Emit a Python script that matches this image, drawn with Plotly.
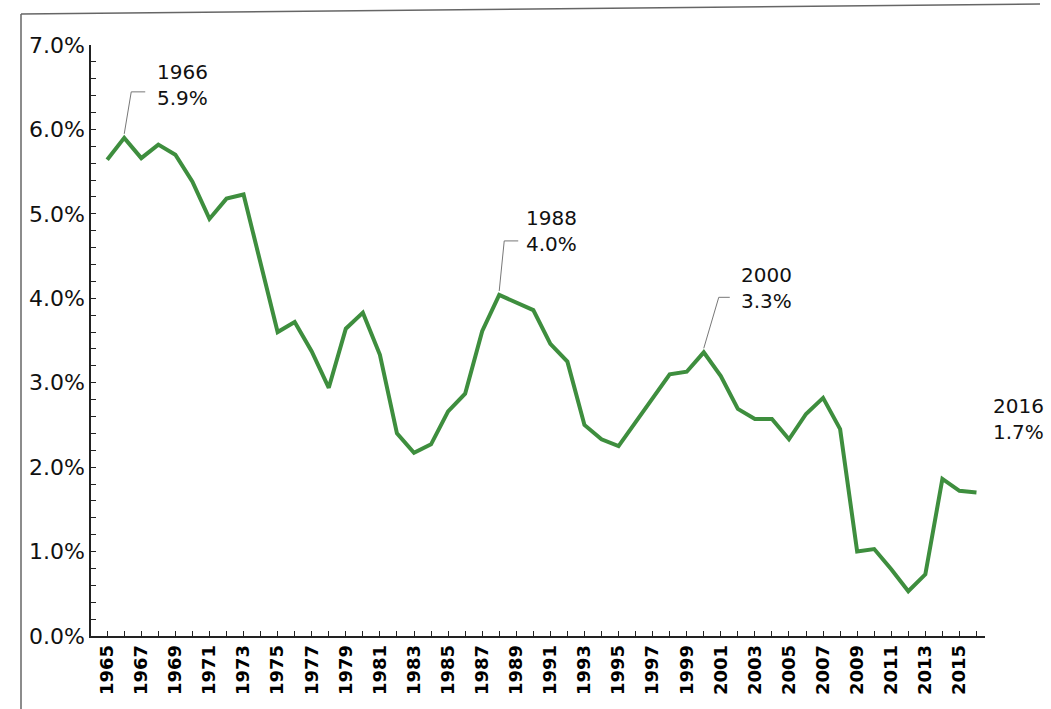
import plotly.graph_objects as go

# -----------------------------------------------------------
# Datos
# -----------------------------------------------------------
years = list(range(1965, 2017))
rate = [
    5.64, 5.90, 5.66, 5.82, 5.70, 5.38, 4.94, 5.18, 5.23, 4.40,
    3.60, 3.72, 3.37, 2.94, 3.64, 3.83, 3.33, 2.40, 2.17, 2.27,
    2.66, 2.87, 3.61, 4.04, 3.95, 3.86, 3.46, 3.25, 2.50, 2.33,
    2.25, 2.54, 2.82, 3.10, 3.13, 3.36, 3.08, 2.69, 2.57, 2.57,
    2.33, 2.63, 2.82, 2.45, 1.00, 1.03, 0.79, 0.53, 0.73, 1.86,
    1.72, 1.70,
]
x_ticks = list(range(1965, 2016, 2))
y_ticks = [0, 1, 2, 3, 4, 5, 6, 7]

# puntos destacados: año, texto, desplazamiento del texto, codo de la guía
highlights = [
    (1966, "1966<br>5.9%", 31, 53, (7, 46, 21)),
    (1988, "1988<br>4.0%", 25, 64, (5, 54, 19)),
    (2000, "2000<br>3.3%", 35, 64, (15, 55, 26)),
    (2016, "2016<br>1.7%", 15, 73, None),
]

GREEN = "#3e8e3e"
FONT = "DejaVu Sans"

fig = go.Figure()
fig.add_trace(go.Scatter(
    x=years, y=rate, mode="lines",
    line=dict(color=GREEN, width=4),
    hoverinfo="x+y", showlegend=False,
))

for yr, txt, dx, dy, guide in highlights:
    val = rate[years.index(yr)]
    fig.add_annotation(
        x=yr, y=val, text=txt, showarrow=False,
        xanchor="left", yanchor="middle", align="left",
        xshift=dx, yshift=dy,
        font=dict(family=FONT, size=20, color="#111"),
    )
    if guide:
        gx, gy, ex = guide
        fig.add_shape(
            type="path", xref="x", yref="y",
            xsizemode="pixel", ysizemode="pixel",
            xanchor=yr, yanchor=val,
            path=f"M0,4 L{gx},{gy} L{ex},{gy}",
            line=dict(color="#777", width=1),
        )

# bordes del papel fotografiado
W, H, L, R, T, B = 1051, 709, 91, 66, 45, 73
pw, ph = W - L - R, H - T - B
def px(x): return (x - L) / pw
def py(y): return (H - B - y) / ph
fig.add_shape(type="line", xref="paper", yref="paper",
              x0=px(21), y0=py(14), x1=px(1040), y1=py(4),
              line=dict(color="#666", width=1.5))
fig.add_shape(type="line", xref="paper", yref="paper",
              x0=px(21), y0=py(14), x1=px(21), y1=py(709),
              line=dict(color="#666", width=1.5))

fig.update_layout(
    width=W, height=H,
    margin=dict(l=L, r=R, t=T, b=B),
    paper_bgcolor="white", plot_bgcolor="white",
    showlegend=False,
    xaxis=dict(
        range=[1964.05, 2016.5],
        tickvals=x_ticks, ticktext=[f"<b>{v}</b>" for v in x_ticks],
        tickangle=-90, ticks="inside", ticklen=5, tickcolor="#222",
        minor=dict(dtick=1, tick0=1965, ticks="inside", ticklen=5, tickcolor="#222", showgrid=False),
        showline=True, linecolor="#222", linewidth=1.5,
        showgrid=False, zeroline=False,
        tickfont=dict(family=FONT, size=18, color="#000"),
    ),
    yaxis=dict(
        range=[0, 7],
        tickvals=y_ticks, ticktext=[f"{v:.1f}%" for v in y_ticks],
        ticks="inside", ticklen=5, tickcolor="#222",
        minor=dict(dtick=0.2, ticks="inside", ticklen=5, tickcolor="#222", showgrid=False),
        showline=True, linecolor="#222", linewidth=1.5,
        showgrid=False, zeroline=False,
        tickfont=dict(family=FONT, size=22, color="#111"),
    ),
)

# quitar el margen por defecto del <body>
fig.write_html("out.html", config={"displayModeBar": False},
               post_script="document.body.style.margin='0';")
